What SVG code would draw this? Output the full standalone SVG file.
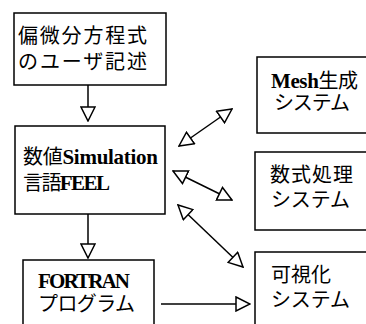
<svg xmlns="http://www.w3.org/2000/svg" width="366" height="324" viewBox="0 0 366 324">
<style>
.box{fill:#fff;stroke:#000;stroke-width:1.5}
.t{font-family:"Liberation Serif","Noto Sans CJK JP",serif;font-size:20px;fill:#000}
.l{font-weight:bold;font-size:21px}
.c{fill:none;stroke:#000;stroke-width:1.5}
</style>
<defs>
<marker id="ah" viewBox="0 0 16 16" refX="15" refY="8" markerWidth="16" markerHeight="16" markerUnits="userSpaceOnUse" orient="auto-start-reverse">
<path d="M1,1 L15,8 L1,15 Z" fill="#fff" stroke="#000" stroke-width="1.5" stroke-linejoin="miter"/>
</marker>
</defs>
<rect width="366" height="324" fill="#fff"/>
<g id="n1">
<rect class="box" x="14" y="13" width="152" height="72"/>
<text class="t" x="18" y="43" textLength="129">偏微分方程式</text>
<text class="t" x="18" y="69" textLength="129">のユーザ記述</text>
</g>
<g id="n2">
<rect class="box" x="15" y="126" width="150" height="88"/>
<text class="t" x="23" y="164" textLength="135">数値<tspan class="l">Simulation</tspan></text>
<text class="t" x="23" y="190" textLength="87">言語<tspan class="l">FEEL</tspan></text>
</g>
<g id="n3">
<rect class="box" x="23" y="260" width="131" height="80"/>
<text class="t l" x="38" y="288" textLength="92">FORTRAN</text>
<text class="t" x="38" y="311" textLength="97">プログラム</text>
</g>
<g id="n4">
<rect class="box" x="257" y="57" width="130" height="76"/>
<text class="t" x="271" y="88" textLength="87"><tspan class="l">Mesh</tspan>生成</text>
<text class="t" x="274" y="110" textLength="76">システム</text>
</g>
<g id="n5">
<rect class="box" x="255" y="152" width="130" height="78"/>
<text class="t" x="270" y="182" textLength="83">数式処理</text>
<text class="t" x="271" y="207" textLength="79">システム</text>
</g>
<g id="n6">
<rect class="box" x="255" y="252" width="130" height="90"/>
<text class="t" x="271" y="282" textLength="60">可視化</text>
<text class="t" x="271" y="307" textLength="79">システム</text>
</g>
<g id="connectors">
<line class="c" x1="88" y1="85" x2="88" y2="121" marker-end="url(#ah)"/>
<line class="c" x1="88" y1="214" x2="88" y2="258" marker-end="url(#ah)"/>
<line class="c" x1="161" y1="304" x2="250" y2="304" marker-end="url(#ah)"/>
<line class="c" x1="179" y1="146" x2="232" y2="109" marker-start="url(#ah)" marker-end="url(#ah)"/>
<line class="c" x1="173" y1="171" x2="232" y2="200" marker-start="url(#ah)" marker-end="url(#ah)"/>
<line class="c" x1="178" y1="205" x2="243" y2="267" marker-start="url(#ah)" marker-end="url(#ah)"/>
</g>
</svg>
